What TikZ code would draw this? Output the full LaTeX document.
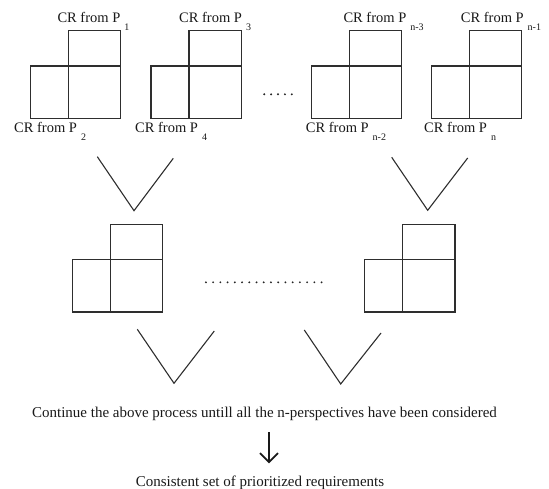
\documentclass[tikz,border=0pt]{standalone}
\usepackage{fontspec}
\setmainfont{Liberation Serif}
\usetikzlibrary{arrows.meta}
\definecolor{linec}{gray}{0.18}
\tikzset{
  sq/.style={draw=linec, line width=1.1pt, inner sep=0pt, outer sep=0pt},
  lbl/.style={anchor=base west, inner sep=0pt, font=\fontsize{14.5}{16}\selectfont, text=black!90},
  bigtxt/.style={anchor=base, inner sep=0pt, font=\fontsize{15}{17}\selectfont, text=black!90},
  vline/.style={draw=linec, line width=1.1pt},
  dotc/.style={fill=black!85, draw=none}
}
\newcommand\sbP[1]{P\hspace{4pt}\raisebox{-8pt}{\fontsize{10}{10}\selectfont #1}}
% #1 prefix, #2 mid x, #3 top y, #4 top height, #5 bottom height
\newcommand\lblock[5]{%
  \node[sq, anchor=north west, minimum width=52.3pt, minimum height=#4pt] (#1t) at (#2,#3) {};
  \node[sq, anchor=north west, minimum width=52.3pt, minimum height=#5pt] (#1r) at (#2,#3+#4) {};
  \node[sq, anchor=north east, minimum width=38pt, minimum height=#5pt] (#1l) at (#2,#3+#4) {};
}
\begin{document}
\begin{tikzpicture}[x=1pt,y=-1pt]
\useasboundingbox (0,0) rectangle (549,489);
% top row blocks
\lblock{a}{68.3}{30.7}{35.3}{52.3}
\lblock{b}{189}{30.7}{35.3}{52.3}
\lblock{c}{349.3}{30.7}{35.3}{52.3}
\lblock{d}{469.3}{30.7}{35.3}{52.3}
% labels
\node[lbl] (la) at (57.3,22.5) {CR from \sbP{1}};
\node[lbl] (lb) at (14,132.5) {CR from \sbP{2}};
\node[lbl] (lc) at (179,22.5) {CR from \sbP{3}};
\node[lbl] (ld) at (135,132.5) {CR from \sbP{4}};
\node[lbl] (le) at (343.3,22.5) {CR from \sbP{n-3}};
\node[lbl] (lf) at (305.7,132.5) {CR from \sbP{n-2}};
\node[lbl] (lg) at (460.7,22.5) {CR from \sbP{n-1}};
\node[lbl] (lh) at (424,132.5) {CR from \sbP{n}};
% dots top row
\foreach \i in {0,...,4} \fill[dotc] (264.2+6.9*\i,94.3) circle (1.1pt);
% top V's
\coordinate (v1a) at (97.3,156.7);
\coordinate (v1v) at (134,210.7);
\coordinate (v1b) at (173.3,158.3);
\coordinate (v2a) at (391.7,157.3);
\coordinate (v2v) at (427.7,210.3);
\coordinate (v2b) at (467.7,158);
\draw[vline] (v1a) -- (v1v) -- (v1b);
\draw[vline] (v2a) -- (v2v) -- (v2b);
% middle row blocks
\lblock{m}{110.3}{224.3}{35}{52.7}
\lblock{n}{402.7}{224.3}{35}{52.7}
% middle dotted line
\foreach \i in {0,...,16} \fill[dotc] (205.9+7.23*\i,282.3) circle (1.05pt);
% bottom V's
\coordinate (w1a) at (137.3,329.3);
\coordinate (w1v) at (174,383.3);
\coordinate (w1b) at (214.3,331);
\coordinate (w2a) at (304.3,330);
\coordinate (w2v) at (340.7,384);
\coordinate (w2b) at (381,333);
\draw[vline] (w1a) -- (w1v) -- (w1b);
\draw[vline] (w2a) -- (w2v) -- (w2b);
% bottom texts
\node[bigtxt] (cont) at (264.5,417) {Continue the above process untill all the n-perspectives have been considered};
\node[bigtxt] (cons) at (260,486.5) {Consistent set of prioritized requirements};
\coordinate (arrtop) at (269,432.3);
\coordinate (arrbot) at (269,463.3);
\draw[line width=1.7pt, black!90, -{Straight Barb[length=9pt,width=18pt,line width=1.7pt]}] (arrtop) -- (arrbot);
\end{tikzpicture}
\end{document}
